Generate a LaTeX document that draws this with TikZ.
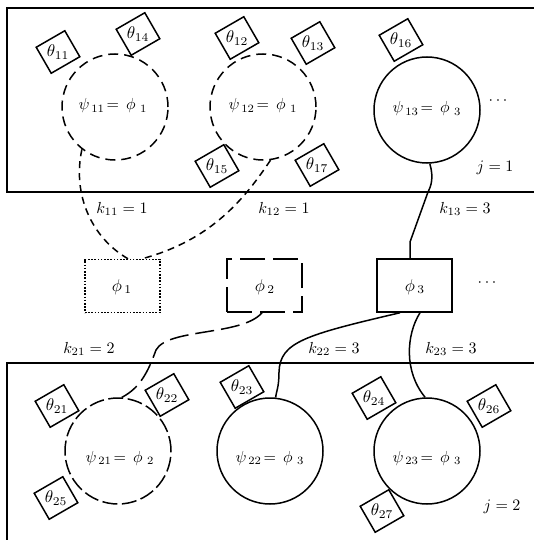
\documentclass[tikz,border=0pt]{standalone}
\begin{document}
\begin{tikzpicture}[x=1pt,y=-1pt,
  frame/.style={line width=2pt},
  circ/.style={circle, draw, line width=1.5pt, minimum size=106pt, inner sep=0pt},
  thbox/.style={draw, fill=white, line width=1.5pt, minimum width=33pt, minimum height=30pt, rotate=30, inner sep=0pt},
  thlab/.style={inner sep=0pt, scale=1.7},
  phbox/.style={draw, line width=1.5pt, minimum width=75pt, minimum height=53pt, inner sep=0pt},
  lab/.style={inner sep=0pt, scale=1.6},
  cl/.style={inner sep=0pt, scale=1.6},
  conn/.style={line width=1.5pt},
  shortdash/.style={dash pattern=on 7pt off 5pt},
  longdash/.style={dash pattern=on 19pt off 7pt},
  circdash/.style={dash pattern=on 10pt off 6pt},
  circlong/.style={dash pattern=on 15pt off 4.5pt},
  boxdot/.style={dash pattern=on 1.6pt off 1.6pt},
  boxlong/.style={dash pattern=on 25pt off 8pt}
]
\useasboundingbox (0,0) rectangle (534,540);
\fill[white] (0,0) rectangle (534,540);

% frames
\draw[frame] (540,8) -- (7,8) -- (7,192) -- (540,192);
\draw[frame] (540,363) -- (7,363) -- (7,545);

% top circles
\node[circ, circdash] (c11) at (115,107) {};
\node[circ, circdash] (c12) at (263,107) {};
\node[circ] (c13) at (427,110) {};
\node[cl] (l11) at (113,106) {$\psi_{\,11}\!=\,\phi_{\,\,1}$};
\node[cl] (l12) at (263,106) {$\psi_{\,12}\!=\,\phi_{\,\,1}$};
\node[cl] (l13) at (427,109) {$\psi_{\,13}\!=\,\phi_{\,\,3}$};

% bottom circles
\node[circ, circlong] (c21) at (118,451) {};
\node[circ] (c22) at (270,451) {};
\node[circ] (c23) at (427,451) {};
\node[cl] (l21) at (120,458) {$\psi_{\,21}\!=\,\phi_{\,\,2}$};
\node[cl] (l22) at (270,458) {$\psi_{\,22}\!=\,\phi_{\,\,3}$};
\node[cl] (l23) at (427,458) {$\psi_{\,23}\!=\,\phi_{\,\,3}$};

% middle boxes
\node[phbox, boxdot] (p1) at (122.5,286) {};
\node[phbox, boxlong] (p2) at (264.5,285.5) {};
\node[phbox] (p3) at (414.5,285.5) {};
\node[thlab] (pl1) at (122,287) {$\phi_{\,1}$};
\node[thlab] (pl2) at (265,287) {$\phi_{\,2}$};
\node[thlab] (pl3) at (415,287) {$\phi_{\,3}$};

% connectors
\draw[conn, shortdash] (c11.232) .. controls (72,195) and (92,238) .. ([xshift=5.5pt]p1.north);
\draw[conn, shortdash] (c12.278) .. controls (245,198) and (212,240) .. ([xshift=19.5pt]p1.north);
\draw[conn] (c13.273) .. controls (434,178) and (431,186) .. (428,192) -- (410,242) -- ([xshift=-4.5pt]p3.north);
\draw[conn, longdash] ([xshift=-2.5pt]p2.south) .. controls (242,336) and (168,328) .. (156,350) .. controls (148,372) and (140,388) .. (c21.86);
\draw[conn] ([xshift=-14.5pt]p3.south) .. controls (305,335) and (280,342) .. (279,372) .. controls (279,388) and (276,392) .. (c22.84);
\draw[conn] ([xshift=5.5pt]p3.south) .. controls (406,335) and (404,372) .. (c23.92);

% theta boxes top
\node[thbox] (b11) at (58,52) {};
\node[thbox] (b14) at (138,34) {};
\node[thbox] (b12) at (237,38) {};
\node[thbox] (b13) at (313,43) {};
\node[thbox] (b16) at (401,40) {};
\node[thbox] (b15) at (217,166) {};
\node[thbox] (b17) at (317,165) {};
\node[thlab] (t11) at (b11) {$\theta_{11}$};
\node[thlab] (t14) at (b14) {$\theta_{14}$};
\node[thlab] (t12) at (b12) {$\theta_{12}$};
\node[thlab] (t13) at (b13) {$\theta_{13}$};
\node[thlab] (t16) at (b16) {$\theta_{16}$};
\node[thlab] (t15) at (b15) {$\theta_{15}$};
\node[thlab] (t17) at (b17) {$\theta_{17}$};

% theta boxes bottom
\node[thbox] (b21) at (57,406) {};
\node[thbox] (b22) at (167,395) {};
\node[thbox] (b25) at (56,498) {};
\node[thbox] (b23) at (242,387) {};
\node[thbox] (b24) at (374,398) {};
\node[thbox] (b26) at (489,406) {};
\node[thbox] (b27) at (382,511) {};
\node[thlab] (t21) at (b21) {$\theta_{21}$};
\node[thlab] (t22) at (b22) {$\theta_{22}$};
\node[thlab] (t25) at (b25) {$\theta_{25}$};
\node[thlab] (t23) at (b23) {$\theta_{23}$};
\node[thlab] (t24) at (b24) {$\theta_{24}$};
\node[thlab] (t26) at (b26) {$\theta_{26}$};
\node[thlab] (t27) at (b27) {$\theta_{27}$};

% labels
\node[lab] (k11) at (122,209) {$k_{11} = 1$};
\node[lab] (k12) at (284,209) {$k_{12} = 1$};
\node[lab] (k13) at (465,209) {$k_{13} = 3$};
\node[lab] (k21) at (89,349) {$k_{21} = 2$};
\node[lab] (k22) at (334,349) {$k_{22} = 3$};
\node[lab] (k23) at (451,349) {$k_{23} = 3$};
\node[lab] (j1) at (495,168) {$j = 1$};
\node[lab] (j2) at (502,507) {$j = 2$};
\node[lab] (d1) at (498,101) {$\cdots$};
\node[lab] (d2) at (487,283) {$\cdots$};
\end{tikzpicture}
\end{document}
